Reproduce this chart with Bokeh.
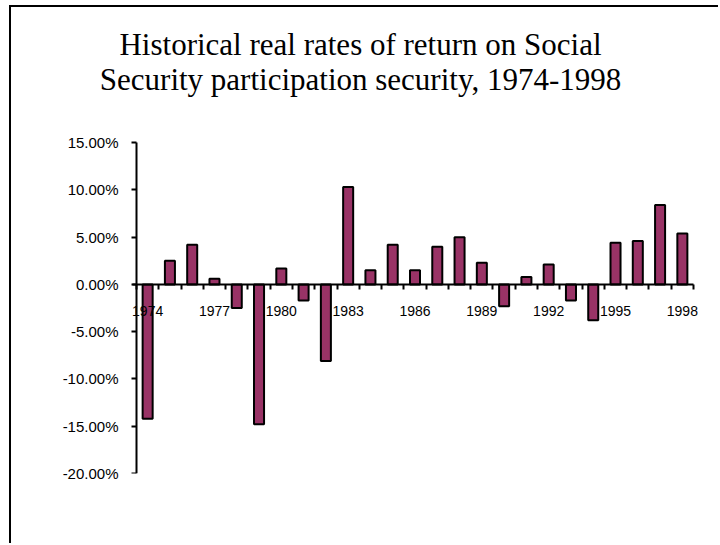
from bokeh.plotting import figure
from bokeh.models import LinearAxis, FixedTicker, PrintfTickFormatter, ColumnDataSource, Label
from bokeh.embed import file_html
from bokeh.resources import INLINE

# ---- data ----
years = [1974, 1975, 1976, 1977, 1978, 1979, 1980, 1981, 1982, 1983, 1984, 1985,
         1986, 1987, 1988, 1989, 1990, 1991, 1992, 1993, 1994, 1995, 1996, 1997, 1998]
returns_pct = [-14.2, 2.5, 4.2, 0.6, -2.5, -14.8, 1.7, -1.7, -8.1, 10.3, 1.5, 4.2,
               1.5, 4.0, 5.0, 2.3, -2.3, 0.8, 2.1, -1.7, -3.8, 4.4, 4.6, 8.4, 5.4]
label_years = [1974, 1977, 1980, 1983, 1986, 1989, 1992, 1995, 1998]
y_ticks = [-20, -15, -10, -5, 0, 5, 10, 15]
title_line1 = "Historical real rates of return on Social"
title_line2 = "Security participation security, 1974-1998"

first_edge = years[0] - 0.5
last_edge = years[-1] + 0.5
boundaries = [y - 0.5 for y in years] + [last_edge]

# ---- layout constants (pixels) ----
PX_PER_PCT = 9.44          # vertical scale of the value axis
PX_PER_YEAR = 22.28        # horizontal scale of the year axis
TOP_SPACE_PX = 135         # room above the 15% tick for the title
LEFT_SPACE_PX = 40         # frame room left of the first category edge (title room)
X_START = first_edge - LEFT_SPACE_PX / PX_PER_YEAR
X_END = last_edge + 7 / PX_PER_YEAR
Y_END = y_ticks[-1] + TOP_SPACE_PX / PX_PER_PCT

src = ColumnDataSource(dict(year=years, ret=returns_pct))

p = figure(width=709, height=538, x_range=(X_START, X_END),
           y_range=(y_ticks[0], Y_END),
           x_axis_location=None, y_axis_location=None,
           output_backend="svg", toolbar_location=None,
           min_border_left=85, min_border_right=20, min_border_top=0,
           min_border_bottom=72)
p.outline_line_color = None
p.background_fill_color = "white"
p.border_fill_color = "white"
for g in p.grid:
    g.visible = False
p.margin = (5, 0, 0, 9)
p.styles = {"border-left": "2px solid black", "border-top": "2px solid black"}

# two-line chart title, each line centred over the chart area
title_x = first_edge + (360 - 136) / PX_PER_YEAR
title_style = dict(text_align="center", text_baseline="alphabetic",
                   text_font="Liberation Serif", text_font_size="31px", text_color="black")
p.add_layout(Label(x=title_x, y=y_ticks[-1] + 98 / PX_PER_PCT, text=title_line1, **title_style))
p.add_layout(Label(x=title_x, y=y_ticks[-1] + 63 / PX_PER_PCT, text=title_line2, **title_style))

bars = p.vbar(x="year", top="ret", bottom=0, width=0.45, source=src,
              fill_color="#993366", line_color="black", line_width=2)
bars.level = "underlay"

# y labels (in the left panel, pulled right so they end left of the axis line)
ylab = LinearAxis(ticker=FixedTicker(ticks=y_ticks),
                  formatter=PrintfTickFormatter(format="%.2f%%"))
ylab.axis_line_color = None
ylab.major_tick_line_color = None
ylab.minor_tick_line_color = None
ylab.major_tick_in = 0
ylab.major_tick_out = 0
ylab.major_label_standoff = -22
ylab.major_label_text_font = "Liberation Sans"
ylab.major_label_text_font_size = "15px"
ylab.major_label_text_color = "black"
p.add_layout(ylab, "left")

# y axis line + ticks at the first category edge
yline = LinearAxis(ticker=FixedTicker(ticks=[], minor_ticks=y_ticks))
yline.fixed_location = first_edge
yline.bounds = (y_ticks[0], y_ticks[-1])
yline.axis_line_width = 2
yline.minor_tick_in = 0
yline.minor_tick_out = 5
yline.minor_tick_line_width = 2
yline.minor_tick_line_color = "black"
p.add_layout(yline, "left")

# x axis line + ticks between categories, crossing at zero
xline = LinearAxis(ticker=FixedTicker(ticks=[], minor_ticks=boundaries))
xline.fixed_location = 0
xline.bounds = (first_edge - 0.18, last_edge)
xline.axis_line_width = 2
xline.minor_tick_in = 0
xline.minor_tick_out = 5
xline.minor_tick_line_width = 2
xline.minor_tick_line_color = "black"
p.add_layout(xline, "below")

# x labels every third year
xlab = LinearAxis(ticker=FixedTicker(ticks=label_years))
xlab.fixed_location = 0
xlab.axis_line_color = None
xlab.major_tick_line_color = None
xlab.minor_tick_line_color = None
xlab.major_tick_in = 0
xlab.major_tick_out = 0
xlab.major_label_standoff = 22
xlab.major_label_text_font = "Liberation Sans"
xlab.major_label_text_font_size = "14px"
xlab.major_label_text_color = "black"
p.add_layout(xlab, "below")

open("out.html", "w").write(file_html(p, INLINE))
